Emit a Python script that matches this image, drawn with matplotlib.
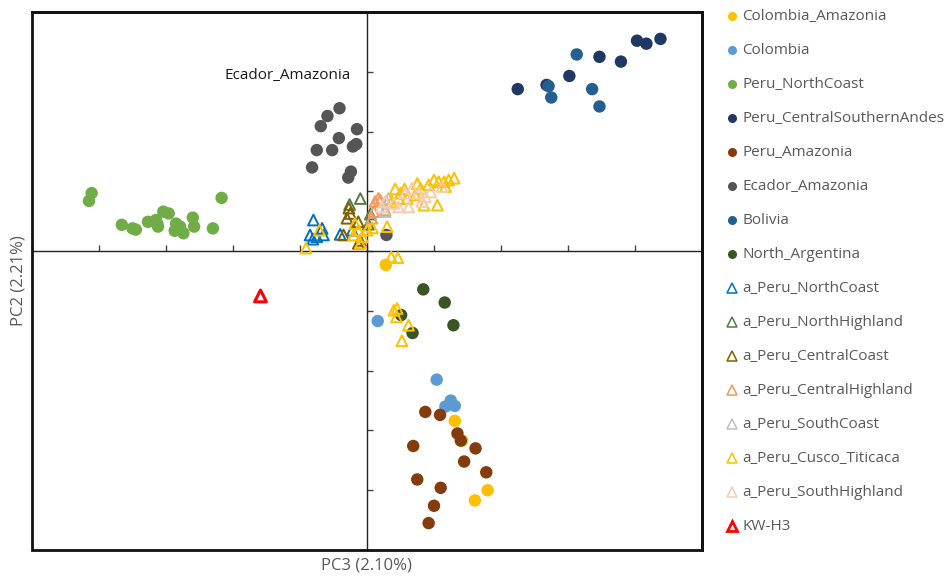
import matplotlib
matplotlib.use("Agg")
import matplotlib.pyplot as plt
from matplotlib.lines import Line2D

plt.rcParams['font.family'] = ['Open Sans', 'DejaVu Sans']

# ---- PCA coordinates (PC3, PC2) per population ----
colombia_amazonia_x = [0.28, 1.31, 1.42, 1.80, 1.61]
colombia_amazonia_y = [-0.23, -2.84, -3.17, -4.00, -4.17]

colombia_x = [0.16, 1.04, 1.25, 1.17, 1.31]
colombia_y = [-1.17, -2.15, -2.50, -2.60, -2.59]

peru_northcoast_x = [-4.11, -4.15, -2.17, -3.66, -3.50, -3.45, -3.27, -3.13, -3.12, -3.04,
                     -2.96, -2.85, -2.79, -2.87, -2.74, -2.60, -2.58, -2.30, -3.15]
peru_northcoast_y = [0.97, 0.84, 0.89, 0.44, 0.38, 0.36, 0.49, 0.46, 0.41, 0.66,
                     0.63, 0.46, 0.41, 0.34, 0.30, 0.56, 0.41, 0.38, 0.52]

peru_csa_x = [2.25, 2.68, 3.02, 3.47, 3.79, 4.03, 4.17, 4.38]
peru_csa_y = [2.71, 2.78, 2.93, 3.25, 3.17, 3.52, 3.47, 3.55]

peru_amazonia_x = [0.87, 1.09, 1.35, 1.40, 0.69, 1.62, 1.45, 1.78, 0.75, 1.10, 1.00, 0.92]
peru_amazonia_y = [-2.69, -2.74, -3.05, -3.17, -3.26, -3.30, -3.52, -3.70, -3.82, -3.96, -4.26, -4.55]

ecador_amazonia_x = [-0.41, -0.59, -0.69, -0.15, -0.42, -0.75, -0.52, -0.21, -0.16, -0.82, -0.24, -0.28, 0.29]
ecador_amazonia_y = [2.39, 2.26, 2.09, 2.04, 1.89, 1.69, 1.69, 1.75, 1.79, 1.40, 1.33, 1.23, 0.27]

bolivia_x = [3.13, 2.71, 2.75, 3.36, 3.47]
bolivia_y = [3.29, 2.76, 2.57, 2.71, 2.42]

north_argentina_x = [0.84, 1.16, 1.29, 0.51, 0.68]
north_argentina_y = [-0.64, -0.86, -1.24, -1.07, -1.37]

a_peru_northcoast_x = [-0.80, -0.67, -0.85, -0.75, -0.81, -0.65, -0.40, -0.22]
a_peru_northcoast_y = [0.52, 0.38, 0.27, 0.24, 0.20, 0.27, 0.28, 0.35]

a_peru_northhighland_x = [-0.10, -0.26, 0.05, 0.02]
a_peru_northhighland_y = [0.88, 0.78, 0.62, 0.45]

a_peru_centralcoast_x = [-0.27, -0.25, -0.30, -0.13, -0.10, -0.13, -0.35]
a_peru_centralcoast_y = [0.72, 0.63, 0.55, 0.49, 0.18, 0.13, 0.27]

a_peru_centralhighland_x = [0.17, 0.10, 0.27, 0.07, 0.12, 0.20]
a_peru_centralhighland_y = [0.88, 0.66, 0.69, 0.55, 0.83, 0.85]

a_peru_southcoast_x = [0.27, 0.30, 0.32]
a_peru_southcoast_y = [0.66, 0.80, 0.88]

a_peru_cusco_x = [-0.91, -0.71, -0.18, -0.13, -0.20, -0.07, -0.10, 0.00, 0.08, 0.30,
                  0.42, 0.56, 0.75, 0.80, 1.00, 1.07, 1.15, 1.22, 1.30, 1.17,
                  1.05, 0.85, 0.60, 0.47, 0.37, 0.92, 0.72, 0.50,
                  0.36, 0.46, 0.40, 0.45, 0.44, 0.62, 0.52]
a_peru_cusco_y = [0.05, 0.35, 0.46, 0.35, 0.27, 0.24, 0.13, 0.35, 0.39, 0.41,
                  1.04, 1.04, 1.13, 1.05, 1.19, 1.16, 1.16, 1.19, 1.22, 1.08,
                  0.77, 0.77, 0.88, 0.88, 0.83, 1.11, 0.94, 0.97,
                  -0.10, -0.11, -0.99, -0.96, -1.10, -1.24, -1.50]

a_peru_southhighland_x = [0.40, 0.47, 0.62, 0.82, 0.87, 0.77, 0.57, 0.27, 0.22, 0.67, 0.95, 1.12]
a_peru_southhighland_y = [0.80, 0.74, 0.74, 0.83, 0.91, 0.97, 0.97, 0.83, 0.74, 1.05, 0.99, 1.08]

kw_h3_x = [-1.59]
kw_h3_y = [-0.75]

# ---- styling per series: (label, x, y, colour, filled) ----
series = [
    ("Colombia_Amazonia", colombia_amazonia_x, colombia_amazonia_y, "#FFC000", True),
    ("Colombia", colombia_x, colombia_y, "#5B9BD5", True),
    ("Peru_NorthCoast", peru_northcoast_x, peru_northcoast_y, "#70AD47", True),
    ("Peru_CentralSouthernAndes", peru_csa_x, peru_csa_y, "#203864", True),
    ("Peru_Amazonia", peru_amazonia_x, peru_amazonia_y, "#843C0C", True),
    ("Ecador_Amazonia", ecador_amazonia_x, ecador_amazonia_y, "#555555", True),
    ("Bolivia", bolivia_x, bolivia_y, "#255E91", True),
    ("North_Argentina", north_argentina_x, north_argentina_y, "#375623", True),
    ("a_Peru_NorthCoast", a_peru_northcoast_x, a_peru_northcoast_y, "#0070C0", False),
    ("a_Peru_NorthHighland", a_peru_northhighland_x, a_peru_northhighland_y, "#557A45", False),
    ("a_Peru_CentralCoast", a_peru_centralcoast_x, a_peru_centralcoast_y, "#7F6000", False),
    ("a_Peru_CentralHighland", a_peru_centralhighland_x, a_peru_centralhighland_y, "#F19A5E", False),
    ("a_Peru_SouthCoast", a_peru_southcoast_x, a_peru_southcoast_y, "#BFBFBF", False),
    ("a_Peru_Cusco_Titicaca", a_peru_cusco_x, a_peru_cusco_y, "#FFC000", False),
    ("a_Peru_SouthHighland", a_peru_southhighland_x, a_peru_southhighland_y, "#F8CBAD", False),
    ("KW-H3", kw_h3_x, kw_h3_y, "#FF0000", False),
]

fig = plt.figure(figsize=(9.49, 5.81), dpi=100)
ax = fig.add_axes([32 / 949, 1 - 550 / 581, 670 / 949, 538 / 581])
ax.set_xlim(-5, 5)
ax.set_ylim(-5, 4)

for label, xs, ys, color, filled in series:
    if filled:
        ax.scatter(xs, ys, s=80, marker='o', color=color, edgecolors='none', zorder=3)
    elif label == "KW-H3":
        ax.scatter(xs, ys, s=72, marker='^', facecolors='none', edgecolors=color,
                   linewidths=2.2, zorder=4)
    else:
        ax.scatter(xs, ys, s=60, marker='^', facecolors='none', edgecolors=color,
                   linewidths=1.4, zorder=4)

ax.text(-1.19, 2.93, "Ecador_Amazonia", fontsize=11, color="#1a1a1a",
        ha='center', va='center')

# axes crossing at the origin, box frame around the plot area
for side in ('left', 'bottom'):
    ax.spines[side].set_position(('data', 0))
    ax.spines[side].set_linewidth(1.0)
    ax.spines[side].set_color('#222222')
for side in ('top', 'right'):
    ax.spines[side].set_linewidth(2.0)
    ax.spines[side].set_color('#111111')
frame = plt.Rectangle((0, 0), 1, 1, transform=ax.transAxes, fill=False,
                      linewidth=2.0, edgecolor='#111111', clip_on=False, zorder=5)
ax.add_patch(frame)

ax.set_xticks(range(-5, 6))
ax.set_yticks(range(-5, 5))
ax.tick_params(axis='both', direction='in', length=4, width=1.0, color='#444444',
               labelbottom=False, labelleft=False)

fig.text(366.7 / 949, 1 - 566 / 581, "PC3 (2.10%)", fontsize=12, color="#595959",
         ha='center', va='center')
fig.text(19 / 949, 1 - 281 / 581, "PC2 (2.21%)", fontsize=12, color="#595959",
         ha='center', va='center', rotation=90)

# legend column on the right
for i, (label, xs, ys, color, filled) in enumerate(series):
    y_px = 16 + 34 * i
    yf = 1 - y_px / 581
    if filled:
        h = Line2D([732 / 949], [yf], marker='o', markersize=6.5, color=color,
                   markeredgewidth=0, linestyle='none', transform=fig.transFigure)
    else:
        lw = 2.0 if label == "KW-H3" else 1.1
        h = Line2D([732 / 949], [yf], marker='^', markersize=6.5, markerfacecolor='none',
                   markeredgecolor=color, markeredgewidth=lw, linestyle='none',
                   transform=fig.transFigure)
    fig.add_artist(h)
    fig.text(742 / 949, yf, label, fontsize=11, color="#595959", ha='left', va='center')

fig.savefig("out.png", dpi=100)
